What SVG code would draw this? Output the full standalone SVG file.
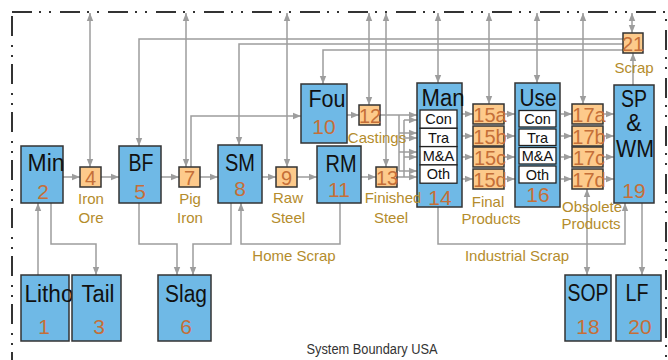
<svg xmlns="http://www.w3.org/2000/svg" width="668" height="360" viewBox="0 0 668 360">
<defs>
<marker id="a" viewBox="0 0 10 10" refX="10" refY="5" markerWidth="8" markerHeight="8" markerUnits="userSpaceOnUse" orient="auto-start-reverse"><path d="M0,1 L10,5 L0,9 z" fill="#9d9d9d"/></marker>
<style>
text{font-family:"Liberation Sans",Arial,sans-serif;text-anchor:middle}
.n{fill:#6fb9e6;stroke:#333;stroke-width:1.5}
.o{fill:#fdca8b;stroke:#333;stroke-width:1.5}
.w{fill:#fff;stroke:#222;stroke-width:1.3}
.nm{font-size:23px;fill:#111}
.nu{font-size:21px;fill:#c56f38}
.sn{font-size:20px;fill:#c56f38}
.lb{font-size:15px;fill:#b48c2c}
.in{font-size:14.5px;fill:#111}
.c path{fill:none;stroke:#9d9d9d;stroke-width:1.5}
.e{marker-end:url(#a)}
.d{marker-start:url(#a);marker-end:url(#a)}
</style>
</defs>
<rect x="12" y="12" width="654" height="390" fill="none" stroke="#333" stroke-width="2" stroke-dasharray="20 7 2 8 2 9"/>
<text x="372" y="354" font-size="14" fill="#333" textLength="131" lengthAdjust="spacingAndGlyphs">System Boundary USA</text>

<g class="c">
<path class="e" d="M63,177 H80"/>
<path class="e" d="M101,177 H119"/>
<path class="e" d="M161,177 H179"/>
<path class="e" d="M200,177 H218"/>
<path class="e" d="M262,177 H276"/>
<path class="e" d="M297,177 H317"/>
<path class="e" d="M361,177 H376"/>
<path class="d" d="M90,13 V167"/>
<path class="d" d="M186,13 V167"/>
<path class="d" d="M287,13 V167"/>
<path class="d" d="M369,13 V105"/>
<path class="d" d="M386,13 V167"/>
<path class="d" d="M438,13 V83"/>
<path class="d" d="M489,13 V104"/>
<path class="d" d="M537,13 V83"/>
<path class="d" d="M583,13 V104"/>
<path class="d" d="M632,13 V33"/>
<path class="e" d="M623,39 H139 V146"/>
<path class="e" d="M623,44 H239 V145"/>
<path class="e" d="M623,50 H323 V84"/>
<path class="e" d="M633,85 V53"/>
<path class="e" d="M191,167 V116 H301"/>
<path class="e" d="M347,115 H359"/>
<path class="e" d="M380,115 H417"/>
<path d="M399,115 V171"/>
<path class="e" d="M399,133 H417"/>
<path class="e" d="M399,152 H417"/>
<path class="e" d="M399,171 H417"/>
<path class="e" d="M397,177 H417"/>
<path d="M404,177 V120"/>
<path class="e" d="M404,120 H417"/>
<path class="e" d="M404,138 H417"/>
<path class="e" d="M404,157 H417"/>
<path class="e" d="M462,114 H473"/>
<path class="e" d="M462,136 H473"/>
<path class="e" d="M462,157 H473"/>
<path class="e" d="M462,179 H473"/>
<path class="e" d="M504,114 H515"/>
<path class="e" d="M504,136 H515"/>
<path class="e" d="M504,157 H515"/>
<path class="e" d="M504,179 H515"/>
<path class="e" d="M561,114 H572"/>
<path class="e" d="M561,136 H572"/>
<path class="e" d="M561,157 H572"/>
<path class="e" d="M561,179 H572"/>
<path class="e" d="M603,114 H614"/>
<path class="e" d="M603,136 H614"/>
<path class="e" d="M603,157 H614"/>
<path class="e" d="M603,179 H614"/>
<path class="e" d="M38,275 V203"/>
<path class="e" d="M51,203 V244 H96 V275"/>
<path class="e" d="M139,203 V244 H177 V275"/>
<path class="e" d="M231,203 V244 H193 V275"/>
<path class="e" d="M340,203 V244 H241 V203"/>
<path class="e" d="M438,207 V244 H625 V203"/>
<path class="d" d="M587,189 V275"/>
<path class="e" d="M642,203 V275"/>
</g>

<g id="litho"><rect class="n" x="21" y="275" width="48" height="66"/><text class="nm" x="49" y="302" textLength="49" lengthAdjust="spacingAndGlyphs">Litho</text><text class="nu" x="44" y="334">1</text></g>
<g id="min"><rect class="n" x="21" y="146" width="42" height="57"/><text class="nm" x="46" y="171" textLength="37" lengthAdjust="spacingAndGlyphs">Min</text><text class="nu" x="43" y="199">2</text></g>
<g id="tail"><rect class="n" x="72" y="275" width="49" height="66"/><text class="nm" x="98" y="302" textLength="33" lengthAdjust="spacingAndGlyphs">Tail</text><text class="nu" x="99" y="334">3</text></g>
<g id="n4"><rect class="o" x="80" y="167" width="21" height="20"/><text class="sn" x="90.5" y="185">4</text></g>
<g id="bf"><rect class="n" x="119" y="146" width="42" height="57"/><text class="nm" x="141" y="171" textLength="25" lengthAdjust="spacingAndGlyphs">BF</text><text class="nu" x="140" y="199">5</text></g>
<g id="slag"><rect class="n" x="158" y="275" width="53" height="66"/><text class="nm" x="186" y="302" textLength="42" lengthAdjust="spacingAndGlyphs">Slag</text><text class="nu" x="186" y="334">6</text></g>
<g id="n7"><rect class="o" x="179" y="167" width="21" height="20"/><text class="sn" x="189.5" y="185">7</text></g>
<g id="sm"><rect class="n" x="218" y="145" width="44" height="58"/><text class="nm" x="240" y="171" textLength="30" lengthAdjust="spacingAndGlyphs">SM</text><text class="nu" x="240" y="196">8</text></g>
<g id="n9"><rect class="o" x="276" y="167" width="21" height="20"/><text class="sn" x="286.5" y="185">9</text></g>
<g id="fou"><rect class="n" x="301" y="84" width="46" height="59"/><text class="nm" x="327" y="107" textLength="37" lengthAdjust="spacingAndGlyphs">Fou</text><text class="nu" x="324" y="134">10</text></g>
<g id="rm"><rect class="n" x="317" y="146" width="44" height="57"/><text class="nm" x="341" y="172" textLength="31" lengthAdjust="spacingAndGlyphs">RM</text><text class="nu" x="339" y="197">11</text></g>
<g id="n12"><rect class="o" x="359" y="105" width="21" height="20"/><text class="sn" x="370" y="123">12</text></g>
<g id="n13"><rect class="o" x="376" y="167" width="21" height="20"/><text class="sn" x="387" y="185">13</text></g>
<g id="man"><rect class="n" x="417" y="83" width="45" height="124"/><text class="nm" x="443" y="106" textLength="43" lengthAdjust="spacingAndGlyphs">Man</text>
<rect class="w" x="420" y="110" width="37" height="18.3"/><text class="in" x="438.5" y="124">Con</text>
<rect class="w" x="420" y="128.3" width="37" height="18.3"/><text class="in" x="438.5" y="142.5">Tra</text>
<rect class="w" x="420" y="146.6" width="37" height="18.3"/><text class="in" x="438.5" y="161">M&amp;A</text>
<rect class="w" x="420" y="164.9" width="37" height="18.3"/><text class="in" x="438.5" y="179">Oth</text>
<text class="nu" x="440" y="205">14</text></g>
<g id="n15a"><rect class="o" x="473" y="104" width="31" height="20"/><text class="sn" x="490" y="122">15a</text></g>
<g id="n15b"><rect class="o" x="473" y="126" width="31" height="20"/><text class="sn" x="490" y="144">15b</text></g>
<g id="n15c"><rect class="o" x="473" y="147" width="31" height="20"/><text class="sn" x="490" y="165">15c</text></g>
<g id="n15d"><rect class="o" x="473" y="169" width="31" height="20"/><text class="sn" x="490" y="187">15d</text></g>
<g id="use"><rect class="n" x="515" y="83" width="45" height="124"/><text class="nm" x="538" y="106" textLength="37" lengthAdjust="spacingAndGlyphs">Use</text>
<rect class="w" x="519" y="110.5" width="37" height="16.5"/><text class="in" x="537.5" y="124">Con</text>
<rect class="w" x="519" y="129" width="37" height="16.5"/><text class="in" x="537.5" y="142.5">Tra</text>
<rect class="w" x="519" y="147.5" width="37" height="16.5"/><text class="in" x="537.5" y="161">M&amp;A</text>
<rect class="w" x="519" y="166" width="37" height="17"/><text class="in" x="537.5" y="179.5">Oth</text>
<text class="nu" x="538" y="202">16</text></g>
<g id="n17a"><rect class="o" x="572" y="104" width="31" height="20"/><text class="sn" x="589" y="122">17a</text></g>
<g id="n17b"><rect class="o" x="572" y="126" width="31" height="20"/><text class="sn" x="589" y="144">17b</text></g>
<g id="n17c"><rect class="o" x="572" y="147" width="31" height="20"/><text class="sn" x="589" y="165">17c</text></g>
<g id="n17d"><rect class="o" x="572" y="169" width="31" height="20"/><text class="sn" x="589" y="187">17d</text></g>
<g id="sop"><rect class="n" x="565" y="275" width="46" height="66"/><text class="nm" x="588" y="301" textLength="41" lengthAdjust="spacingAndGlyphs">SOP</text><text class="nu" x="588" y="334">18</text></g>
<g id="spwm"><rect class="n" x="614" y="85" width="40" height="118"/><text class="nm" x="634" y="107" textLength="26" lengthAdjust="spacingAndGlyphs">SP</text><text class="nm" x="634" y="131" font-size="21">&amp;</text><text class="nm" x="635" y="156.5" textLength="38" lengthAdjust="spacingAndGlyphs">WM</text><text class="nu" x="634" y="198">19</text></g>
<g id="lf"><rect class="n" x="616" y="275" width="45" height="66"/><text class="nm" x="637" y="301" textLength="23" lengthAdjust="spacingAndGlyphs">LF</text><text class="nu" x="640" y="334">20</text></g>
<g id="n21"><rect class="o" x="623" y="33" width="20" height="20"/><text class="sn" x="633" y="50.5">21</text></g>

<g id="labels">
<text class="lb" x="91" y="204">Iron</text><text class="lb" x="91" y="223">Ore</text>
<text class="lb" x="190" y="204">Pig</text><text class="lb" x="190" y="223">Iron</text>
<text class="lb" x="288" y="203">Raw</text><text class="lb" x="288" y="223">Steel</text>
<text class="lb" x="393" y="203">Finished</text><text class="lb" x="391" y="223">Steel</text>
<text class="lb" x="377" y="143">Castings</text>
<text class="lb" x="294" y="261">Home Scrap</text>
<text class="lb" x="517" y="261">Industrial Scrap</text>
<text class="lb" x="488" y="207">Final</text><text class="lb" x="491" y="224">Products</text>
<text class="lb" x="592" y="212">Obsolete</text><text class="lb" x="591" y="229">Products</text>
<text class="lb" x="634" y="73">Scrap</text>
</g>
</svg>
